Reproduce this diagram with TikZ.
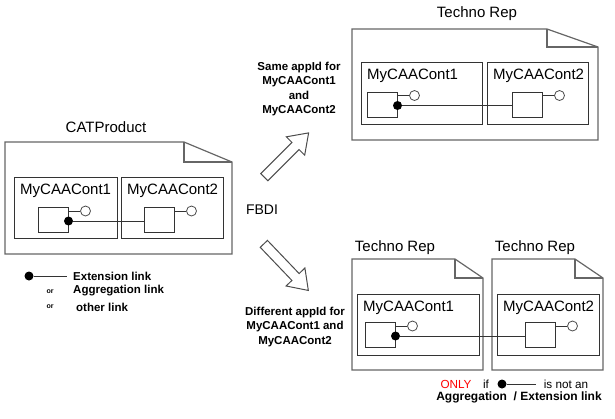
\documentclass[tikz,border=0pt]{standalone}
\usepackage{fontspec}
\setmainfont{Liberation Sans}
\usetikzlibrary{shapes.arrows}

\tikzset{
page/.style={draw=black!60,line width=1.2bp},
cont/.style={draw=black!80,line width=1bp},
comp/.style={draw=black!80,line width=1bp,minimum width=30bp,minimum height=25bp,inner sep=0},
port/.style={circle,draw=black!70,line width=0.8bp,minimum size=10bp,inner sep=0},
dot/.style={circle,fill=black,minimum size=9bp,inner sep=0},
link/.style={draw=black!80,line width=1bp},
lbl/.style={font=\fontsize{15bp}{18bp}\selectfont,inner sep=0},
note/.style={font=\bfseries\fontsize{11.5bp}{14.5bp}\selectfont,inner sep=0,align=center},
tiny/.style={font=\bfseries\fontsize{7bp}{8bp}\selectfont,inner sep=0},
hollow/.style={single arrow,draw=black!70,line width=1bp,fill=white,inner sep=4.5bp,single arrow head extend=8bp,single arrow tip angle=70,anchor=tail}
}

\begin{document}
\begin{tikzpicture}[x=1bp,y=-1bp]
\useasboundingbox (0,0) rectangle (615,418);

% pages with folded corner
\foreach \l/\t/\r/\b/\fx/\fy in {5/142/232/254/184/162, 352/29/598/140/547/47, 352/259/483/370/455/278, 492/259/603/370/575/278}
{
\draw[page] (\l,\t)--(\fx,\t)--(\r,\fy)--(\r,\b)--(\l,\b)--cycle;
\draw[page] (\fx,\t)--(\fx,\fy)--(\r,\fy);
}

\node[lbl] (cat) at (106,127) {CATProduct};
\node[lbl] (rep) at (477,14) {Techno Rep};
\node[lbl] (repa) at (395,248) {Techno Rep};
\node[lbl] (repb) at (535,248) {Techno Rep};

% containers
\foreach \l/\t/\r/\b/\k in {14/177/117/238/1, 121/177/223/238/2, 361/62/482/124/1, 487/62/588/124/2, 357/294/479/355/1, 497/294/599/355/2}
{
\draw[cont] (\l,\t) rectangle (\r,\b);
\node[lbl,anchor=west] at (\l+6,\t+14) {MyCAACont\k};
}

% components and links
\foreach \n/\xa/\xb/\y in {a/53/159/220, b/382/527/104.5, c/380/540/335}
{
\node[comp] (\n1) at (\xa,\y) {};
\node[comp] (\n2) at (\xb,\y) {};
\node[port] (\n1p) at ([xshift=17bp,yshift=-4bp]\n1.north east) {};
\node[port] (\n2p) at ([xshift=17bp,yshift=-4bp]\n2.north east) {};
\draw[link] (\n1.east |- \n1p)--(\n1p);
\draw[link] (\n2.east |- \n2p)--(\n2p);
\node[dot] (\n d) at ([yshift=-14bp]\n1.north east) {};
\draw[link] (\n d)--(\n2.west |- \n d);
}

% FBDI arrows
\node[lbl,font=\fontsize{14bp}{16bp}\selectfont] (fbdi) at (262,210) {FBDI};
\node[hollow,rotate=45,minimum height=62.6bp] (up) at (264,177.5) {};
\node[hollow,rotate=-46.3,minimum height=64.4bp] (down) at (263.5,243.5) {};

\node[note] (same) at (299,89) {Same appId for\\MyCAACont1\\and\\MyCAACont2};
\node[note] (diff) at (295,327) {Different appId for\\MyCAACont1 and\\MyCAACont2};

% legend
\node[dot] (ld) at (29,276) {};
\coordinate (le) at (67,276);
\draw[link] (ld)--(le);
\node[note,anchor=west] (ext) at (73,276) {Extension link};
\node[tiny] (or1) at (50,292) {or};
\node[note,anchor=west] (agg) at (73,291) {Aggregation link};
\node[tiny] (or2) at (50,307) {or};
\node[note,anchor=west] (oth) at (76,307) {other link};

% condition
\node[lbl,font=\fontsize{11.7bp}{14bp}\selectfont,text=red] (only) at (456,384) {ONLY};
\node[lbl,font=\fontsize{11.7bp}{14bp}\selectfont] (if) at (486,384) {if};
\node[dot] (cd) at (502,384) {};
\coordinate (ce) at (536,384);
\draw[link] (cd)--(ce);
\node[lbl,font=\fontsize{11.7bp}{14bp}\selectfont] (isnot) at (566,384) {is not an};
\node[note,font=\bfseries\fontsize{12bp}{14bp}\selectfont] (aggext) at (519,397) {Aggregation\ \ / Extension link};
\end{tikzpicture}
\end{document}
